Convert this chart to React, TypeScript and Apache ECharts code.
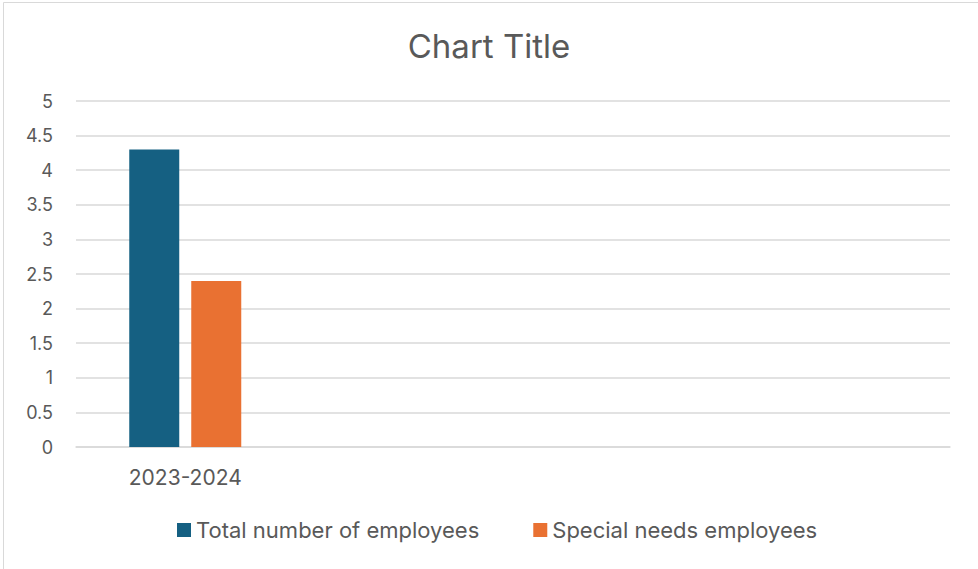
import React, { useEffect, useRef } from "react";
import * as echarts from "echarts";

const categories = ["2023-2024", "", "", ""];
const seriesNames = ["Total number of employees", "Special needs employees"];
const totalEmployees = [4.3, null, null, null];
const specialNeeds = [2.4, null, null, null];
const colors = ["#156082", "#E97132"];

const FONT = "Inter, 'Noto Sans', sans-serif";

export default function App() {
  const ref = useRef<HTMLDivElement>(null);
  useEffect(() => {
    document.body.style.margin = "0";
    const chart = echarts.init(ref.current!, undefined, { renderer: "svg" });
    chart.setOption({
      animation: false,
      backgroundColor: "#ffffff",
      textStyle: { fontFamily: FONT },
      title: {
        text: "Chart Title",
        left: "center",
        top: 24,
        textStyle: { fontSize: 33, fontWeight: "normal", color: "#595959", fontFamily: FONT },
      },
      graphic: [
        {
          type: "rect",
          shape: { x: 3.5, y: 2.5, width: 1200, height: 1200 },
          style: { fill: "none", stroke: "#d9d9d9", lineWidth: 1 },
          silent: true,
        },
      ],
      legend: {
        bottom: 23,
        left: 172,
        itemWidth: 14,
        itemHeight: 14,
        itemGap: 54,
        icon: "rect",
        textStyle: { fontSize: 22, color: "#595959", fontFamily: FONT },
        data: seriesNames,
      },
      grid: { left: 76, right: 28, top: 101, bottom: 122, containLabel: false },
      xAxis: {
        type: "category",
        data: categories,
        axisLine: { lineStyle: { color: "#d9d9d9", width: 1.5 } },
        axisTick: { show: false },
        axisLabel: { fontSize: 21, color: "#595959", margin: 20, fontFamily: FONT },
      },
      yAxis: {
        type: "value",
        min: 0,
        max: 5,
        interval: 0.5,
        axisLine: { show: false },
        axisTick: { show: false },
        splitLine: { lineStyle: { color: "#d9d9d9", width: 1.5 } },
        axisLabel: { fontSize: 18, color: "#595959", margin: 23, fontFamily: FONT },
      },
      series: [
        {
          name: seriesNames[0],
          type: "bar",
          data: totalEmployees,
          itemStyle: { color: colors[0] },
          barWidth: 50,
          barGap: "24%",
        },
        {
          name: seriesNames[1],
          type: "bar",
          data: specialNeeds,
          itemStyle: { color: colors[1] },
          barWidth: 50,
          barGap: "24%",
        },
      ],
    });
    return () => chart.dispose();
  }, []);
  return <div ref={ref} style={{ width: 978, height: 569 }} />;
}
